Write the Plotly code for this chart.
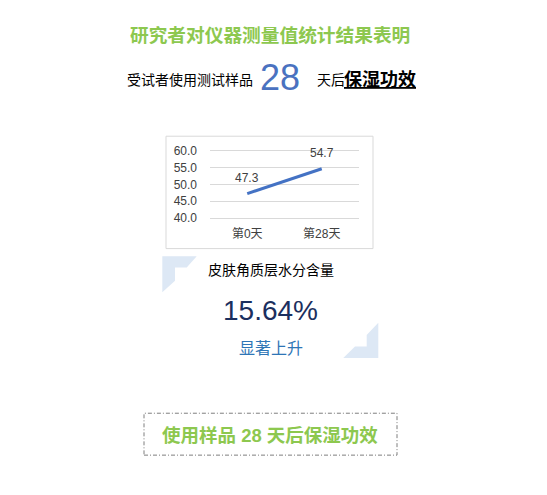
import plotly.graph_objects as go

W, H = 547, 495
OFF = 8  # default page body margin

# ---- data ----
categories = ["第0天", "第28天"]
moisture = [47.3, 54.7]
y_ticks = [40, 45, 50, 55, 60]
y_tick_labels = ["40.0", "45.0", "50.0", "55.0", "60.0"]

title_text = "研究者对仪器测量值统计结果表明"
sub_pre = "受试者使用测试样品"
days_text = "28"
sub_post = "天后"
sub_bold = "保湿功效"
metric_name = "皮肤角质层水分含量"
metric_value = "15.64%"
metric_note = "显著上升"
footer_text = "使用样品 28 天后保湿功效"

GREEN = "#8dc84f"
FONT = "Liberation Sans, Noto Sans CJK SC, sans-serif"


def px(x):
    return (x - OFF) / W


def py(y):
    return 1 - (y - OFF) / H


fig = go.Figure()
fig.add_trace(go.Scatter(
    x=categories, y=moisture, mode="lines",
    line=dict(color="#4472c4", width=3),
    hoverinfo="skip", showlegend=False,
))
for c, v in zip(categories, moisture):
    fig.add_annotation(x=c, y=v, xref="x", yref="y", text=f"{v:.1f}",
                       showarrow=False, yshift=16,
                       font=dict(size=12, color="#404040", family=FONT))

# y range 39..61 mapped so that 60 -> y=150px, 40 -> y=218px
unit = (218 - 150) / 20.0
y_top = 150 - unit * 1
y_bot = 218 + unit * 1

fig.update_layout(
    width=W, height=H,
    margin=dict(l=0, r=0, t=0, b=0),
    paper_bgcolor="white", plot_bgcolor="white",
    font=dict(family=FONT),
    xaxis=dict(domain=[px(210), px(359)], range=[-0.5, 1.5], type="category",
               showgrid=False, showline=False, zeroline=False, ticks="",
               ticklabelstandoff=4,
               tickfont=dict(size=12, color="#404040", family=FONT)),
    yaxis=dict(domain=[py(y_bot), py(y_top)], range=[39, 61],
               tickvals=y_ticks, ticktext=y_tick_labels,
               showgrid=True, gridcolor="#d9d9d9", gridwidth=1,
               showline=False, zeroline=False, ticks="",
               ticklabelstandoff=12,
               tickfont=dict(size=12, color="#404040", family=FONT)),
)

shapes = []
# chart box
shapes.append(dict(type="rect", xref="paper", yref="paper",
                   x0=px(166), x1=px(373), y0=py(249), y1=py(135),
                   line=dict(color="#d9d9d9", width=1), fillcolor="rgba(0,0,0,0)"))


def poly(points):
    return "M " + " L ".join(f"{px(x):.5f},{py(y):.5f}" for x, y in points) + " Z"


CORNER = "#dde8f5"
shapes.append(dict(type="path", xref="paper", yref="paper",
                   path=poly([(162.3, 256.7), (196.7, 256.7), (186.7, 268.3),
                              (175, 268.3), (175, 281.7), (162.3, 293.3)]),
                   fillcolor=CORNER, line=dict(width=0)))
shapes.append(dict(type="path", xref="paper", yref="paper",
                   path=poly([(378.3, 324.3), (378.3, 360), (343.3, 360),
                              (355, 348.3), (366.7, 348.3), (366.7, 336.7)]),
                   fillcolor=CORNER, line=dict(width=0)))

# footer dashed box
shapes.append(dict(type="rect", xref="paper", yref="paper",
                   x0=px(144), x1=px(397), y0=py(458.5), y1=py(416),
                   line=dict(color="#7f7f7f", width=1, dash="4px,2px,1px,2px"),
                   fillcolor="rgba(0,0,0,0)"))
fig.update_layout(shapes=shapes)


def ann(text, x, y, size, color, xanchor="center", bold=False, family=FONT):
    fig.add_annotation(text=f"<b>{text}</b>" if bold else text,
                       x=px(x), y=py(y), xref="paper", yref="paper",
                       xanchor=xanchor, yanchor="middle", showarrow=False,
                       font=dict(size=size, color=color, family=family))


ann(title_text, 270, 33, 18.7, GREEN, bold=True)
ann(sub_pre, 125, 78, 14, "#000000", xanchor="left")
ann(days_text, 280, 75, 36, "#4a72c0")
ann(sub_post, 315, 78, 14, "#000000", xanchor="left")
ann(f"<u>{sub_bold}</u>", 342, 78, 18, "#000000", xanchor="left", bold=True)

ann(metric_name, 271, 271, 14, "#000000")
ann(metric_value, 270, 312, 28, "#1b2f5e")
ann(metric_note, 271, 350, 16, "#2e75b6")

ann(footer_text, 270, 438.5, 18.5, GREEN, bold=True)

fig.write_html("out.html")
